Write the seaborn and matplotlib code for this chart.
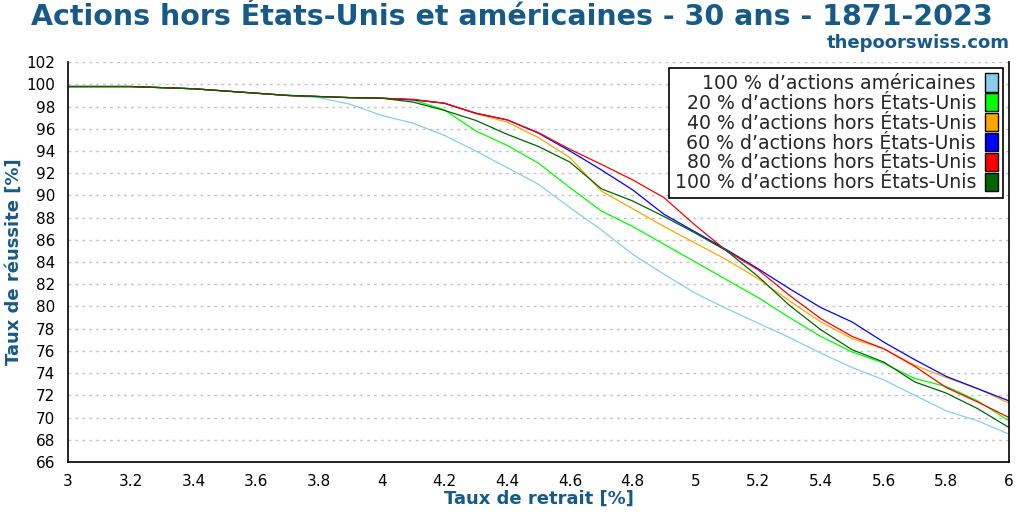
import pandas as pd
import numpy as np
import matplotlib
matplotlib.use('Agg')
import matplotlib.pyplot as plt
import seaborn as sns
from matplotlib.patches import Patch

# withdrawal rates (x) and success rates per allocation (y)
rates = [3.0, 3.1, 3.2, 3.3, 3.4, 3.5, 3.6, 3.7, 3.8, 3.9,
         4.0, 4.1, 4.2, 4.3, 4.4, 4.5, 4.6, 4.7, 4.8, 4.9,
         5.0, 5.1, 5.2, 5.3, 5.4, 5.5, 5.6, 5.7, 5.8, 5.9, 6.0]

us_100 = [99.8, 99.8, 99.8, 99.7, 99.6, 99.4, 99.2, 99.0, 98.8, 98.2,
          97.2, 96.5, 95.4, 94.0, 92.5, 91.0, 88.9, 86.9, 84.7, 82.9,
          81.2, 79.8, 78.5, 77.2, 75.8, 74.5, 73.4, 72.0, 70.6, 69.7, 68.5]
ex_20 = [99.8, 99.8, 99.8, 99.7, 99.6, 99.4, 99.2, 99.0, 98.9, 98.8,
         98.75, 98.6, 97.7, 95.8, 94.5, 92.9, 90.7, 88.6, 87.2, 85.6,
         84.0, 82.4, 80.8, 79.0, 77.3, 75.9, 74.9, 73.5, 72.8, 71.5, 69.7]
ex_40 = [99.8, 99.8, 99.8, 99.7, 99.6, 99.4, 99.2, 99.0, 98.9, 98.8,
         98.75, 98.6, 98.3, 97.35, 96.6, 95.2, 93.4, 90.4, 88.8, 87.2,
         85.7, 84.2, 82.5, 80.5, 78.6, 77.1, 76.2, 74.7, 73.6, 72.6, 71.3]
ex_60 = [99.8, 99.8, 99.8, 99.7, 99.6, 99.4, 99.2, 99.0, 98.9, 98.8,
         98.75, 98.6, 98.3, 97.4, 96.8, 95.6, 94.0, 92.3, 90.5, 88.3,
         86.7, 85.1, 83.4, 81.6, 79.9, 78.6, 76.8, 75.2, 73.7, 72.6, 71.5]
ex_80 = [99.8, 99.8, 99.8, 99.7, 99.6, 99.4, 99.2, 99.0, 98.9, 98.8,
         98.75, 98.65, 98.3, 97.4, 96.8, 95.65, 94.15, 92.8, 91.4, 89.8,
         87.3, 85.0, 83.3, 81.0, 78.9, 77.3, 76.2, 74.6, 72.7, 71.4, 70.0]
ex_100 = [99.8, 99.8, 99.8, 99.7, 99.6, 99.4, 99.2, 99.0, 98.9, 98.8,
          98.75, 98.4, 97.65, 96.75, 95.5, 94.4, 93.0, 90.6, 89.5, 88.1,
          86.6, 85.0, 82.7, 80.1, 77.9, 76.1, 75.0, 73.2, 72.2, 70.8, 69.1]

labels = ['100 % d\u2019actions américaines',
          '20 % d\u2019actions hors États-Unis',
          '40 % d\u2019actions hors États-Unis',
          '60 % d\u2019actions hors États-Unis',
          '80 % d\u2019actions hors États-Unis',
          '100 % d\u2019actions hors États-Unis']
colors = ['skyblue', 'lime', 'orange', 'blue', 'red', 'darkgreen']
series = [us_100, ex_20, ex_40, ex_60, ex_80, ex_100]

df = pd.concat([pd.DataFrame({'rate': rates, 'success': s, 'alloc': lab})
                for s, lab in zip(series, labels)])

sns.set_style('white')
plt.rcParams['font.family'] = ['DejaVu Sans']
title_col = '#175a87'

fig = plt.figure(figsize=(10.24, 5.12), dpi=100)
ax = fig.add_axes([0.0664, 0.0977, 0.919, 0.781])

ax.yaxis.grid(True, linestyle=(0, (2, 3)), color='#c4c4c4', linewidth=1)
ax.set_axisbelow(True)

sns.lineplot(data=df, x='rate', y='success', hue='alloc', hue_order=labels,
             palette=dict(zip(labels, colors)), linewidth=0.9, ax=ax,
             legend=False)

ax.set_xlim(3, 6)
ax.set_ylim(66, 102)
ax.set_xticks(np.arange(3, 6.01, 0.2))
ax.set_xticklabels(['%g' % round(t, 1) for t in np.arange(3, 6.01, 0.2)])
ax.set_yticks(np.arange(66, 102.1, 2))
ax.tick_params(axis='both', direction='out', length=6, width=1.2,
               labelsize=11, pad=3, colors='black')
for s in ax.spines.values():
    s.set_color('black')
    s.set_linewidth(1.2)
ax.spines['top'].set_visible(False)

ax.set_xlabel('Taux de retrait [%]', fontsize=13, fontweight='bold',
              color=title_col, labelpad=0)
ax.set_ylabel('Taux de réussite [%]', fontsize=13, fontweight='bold',
              color=title_col, labelpad=3)

handles = [Patch(facecolor=c, edgecolor='black', linewidth=1) for c in colors]
leg = ax.legend(handles, labels, loc='upper right', markerfirst=False,
                fontsize=13.6, frameon=True, fancybox=False, framealpha=1,
                edgecolor='black', handlelength=0.65, handleheight=1.1,
                handletextpad=0.5, labelspacing=0.02, borderpad=0.3,
                borderaxespad=0.3)
leg.get_frame().set_linewidth(1.2)
for t in leg.get_texts():
    t.set_ha('right')

fig.text(0.5, 0.967, 'Actions hors États-Unis et américaines - 30 ans - 1871-2023',
         ha='center', va='center', fontsize=20.5, fontweight='bold', color=title_col)
fig.text(0.986, 0.916, 'thepoorswiss.com', ha='right', va='center',
         fontsize=13, fontweight='bold', color=title_col)

fig.savefig('out.png', dpi=100)
